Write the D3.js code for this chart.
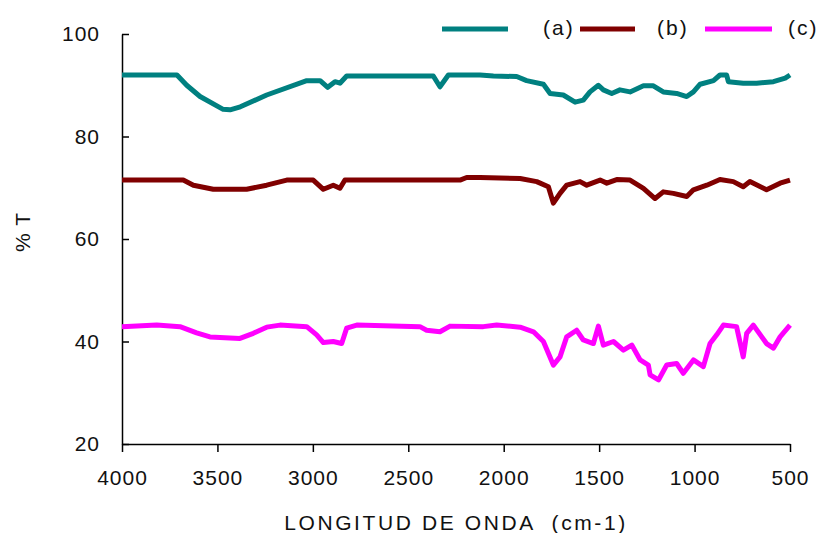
<!DOCTYPE html>
<html>
<head>
<meta charset="utf-8">
<script src="https://cdn.jsdelivr.net/npm/d3@7"></script>
<style>
  body { margin: 0; background: #fff; }
  svg text { font-family: "Liberation Sans", Arial, sans-serif; fill: #111; }
</style>
</head>
<body>
<svg id="chart" width="823" height="533"></svg>
<script>
// ==============================
// DATA
// ==============================

const xTicks = [4000, 3500, 3000, 2500, 2000, 1500, 1000, 500];
const yTicks = [20, 40, 60, 80, 100];
const labels = ["(a)", "(b)", "(c)"];
const colors = ["#008080", "#800000", "#ff00ff"];

// (a) teal
const waveA = [4000, 3712, 3661, 3591, 3470, 3434, 3380, 3242, 3032, 2962, 2922, 2884, 2858, 2823,
  2369, 2334, 2290, 2124, 2054, 1932, 1880, 1792, 1757, 1688, 1626, 1583, 1548, 1504, 1478,
  1434, 1391, 1338, 1268, 1216, 1164, 1094, 1041, 1006, 971, 901, 867, 832, 823, 745, 675,
  587, 525, 500];
const tA = [92, 92, 90.0, 87.8, 85.3, 85.2, 85.8, 88.1, 90.9, 90.9, 89.6, 90.7, 90.4, 91.8,
  91.8, 89.7, 92, 92, 91.8, 91.7, 90.9, 90.2, 88.4, 88.1, 86.7, 87.1, 88.7, 90.0, 89.1,
  88.4, 89.1, 88.7, 89.9, 89.9, 88.7, 88.4, 87.8, 88.7, 90.2, 90.9, 92, 92, 90.7, 90.4, 90.4,
  90.7, 91.4, 92];

// (b) dark red
const waveB = [4000, 3679, 3626, 3522, 3347, 3242, 3137, 2998, 2945, 2893, 2858, 2832, 2229,
  2194, 2124, 1914, 1827, 1766, 1740, 1705, 1670, 1600, 1565, 1495, 1460, 1408, 1338, 1268,
  1207, 1164, 1111, 1041, 1006, 936, 867, 797, 745, 710, 623, 552, 500];
const tB = [71.5, 71.5, 70.5, 69.7, 69.7, 70.5, 71.5, 71.5, 69.7, 70.5, 69.9, 71.5, 71.5,
  72.0, 72.0, 71.8, 71.2, 70.2, 67.0, 68.9, 70.5, 71.2, 70.5, 71.5, 70.9, 71.6, 71.5, 69.9,
  67.9, 69.2, 68.9, 68.3, 69.6, 70.5, 71.6, 71.2, 70.2, 71.2, 69.6, 70.9, 71.5];

// (c) magenta
const waveC = [4000, 3818, 3696, 3609, 3539, 3382, 3312, 3242, 3172, 3032, 2980, 2945, 2893,
  2849, 2823, 2770, 2439, 2404, 2334, 2281, 2107, 2037, 1914, 1844, 1792, 1740, 1705, 1670,
  1618, 1583, 1530, 1504, 1478, 1425, 1373, 1329, 1285, 1242, 1233, 1189, 1146, 1094, 1059,
  1006, 954, 919, 884, 849, 780, 745, 727, 692, 623, 587, 552, 500];
const tC = [42.9, 43.2, 42.9, 41.7, 40.9, 40.6, 41.6, 42.8, 43.2, 42.9, 41.3, 39.8, 40.0,
  39.6, 42.6, 43.2, 42.9, 42.2, 41.9, 43.0, 42.9, 43.2, 42.8, 41.9, 40.0, 35.4, 37.0, 40.9,
  42.2, 40.3, 39.6, 43.0, 39.3, 40.0, 38.3, 39.3, 36.4, 35.4, 33.5, 32.5, 35.4, 35.7, 33.8,
  36.4, 35.1, 39.6, 41.3, 43.2, 42.9, 37.0, 41.6, 43.2, 39.6, 38.7, 40.9, 43.2];

const series = [
  { label: labels[0], color: colors[0], points: waveA.map((w, i) => [w, tA[i]]) },
  { label: labels[1], color: colors[1], points: waveB.map((w, i) => [w, tB[i]]) },
  { label: labels[2], color: colors[2], points: waveC.map((w, i) => [w, tC[i]]) }
];

// ==============================
// SCALES / AXES
// ==============================

const svg = d3.select("#chart");

const x = d3.scaleLinear().domain([4000, 500]).range([122, 790]);
const y = d3.scaleLinear().domain([20, 100]).range([444, 34]);

const yAxis = svg.append("g")
  .attr("transform", "translate(122,0)")
  .call(d3.axisLeft(y).tickValues(yTicks).tickSizeInner(-7).tickSizeOuter(0).tickPadding(22));

const xAxis = svg.append("g")
  .attr("transform", "translate(0,444)")
  .call(d3.axisBottom(x).tickValues(xTicks).tickFormat(d3.format("d")).tickSizeInner(8).tickSizeOuter(0).tickPadding(18));

[xAxis, yAxis].forEach(ax => {
  ax.selectAll("path, line").attr("stroke", "#000").attr("stroke-width", 1.5);
  ax.selectAll("text")
    .attr("font-size", "21px")
    .attr("font-family", "Liberation Sans, Arial, sans-serif")
    .attr("letter-spacing", "1px")
    .attr("fill", "#111");
});

// axis titles
svg.append("text")
  .attr("x", 456)
  .attr("y", 530)
  .attr("text-anchor", "middle")
  .attr("font-size", "21px")
  .attr("letter-spacing", "2.6px")
  .style("white-space", "pre")
  .text("LONGITUD DE ONDA  (cm-1)");

svg.append("text")
  .attr("transform", "translate(30,232) rotate(-90)")
  .attr("text-anchor", "middle")
  .attr("font-size", "21px")
  .attr("letter-spacing", "1px")
  .style("white-space", "pre")
  .text("% T");

// ==============================
// LINES
// ==============================

const line = d3.line()
  .x(d => x(d[0]))
  .y(d => y(d[1]));

svg.append("g")
  .selectAll("path")
  .data(series)
  .enter()
  .append("path")
  .attr("d", d => line(d.points))
  .attr("fill", "none")
  .attr("stroke", d => d.color)
  .attr("stroke-width", 5)
  .attr("stroke-linejoin", "round");

// ==============================
// LEGEND
// ==============================

const legendPos = [
  { x1: 442, x2: 508, tx: 543 },
  { x1: 580, x2: 635, tx: 657 },
  { x1: 705, x2: 772, tx: 788 }
];

const legend = svg.append("g");

series.forEach((s, i) => {
  legend.append("line")
    .attr("x1", legendPos[i].x1)
    .attr("x2", legendPos[i].x2)
    .attr("y1", 29)
    .attr("y2", 29)
    .attr("stroke", s.color)
    .attr("stroke-width", 5);

  legend.append("text")
    .attr("x", legendPos[i].tx)
    .attr("y", 35)
    .attr("font-size", "21px")
    .attr("letter-spacing", "2px")
    .text(s.label);
});
</script>
</body>
</html>
